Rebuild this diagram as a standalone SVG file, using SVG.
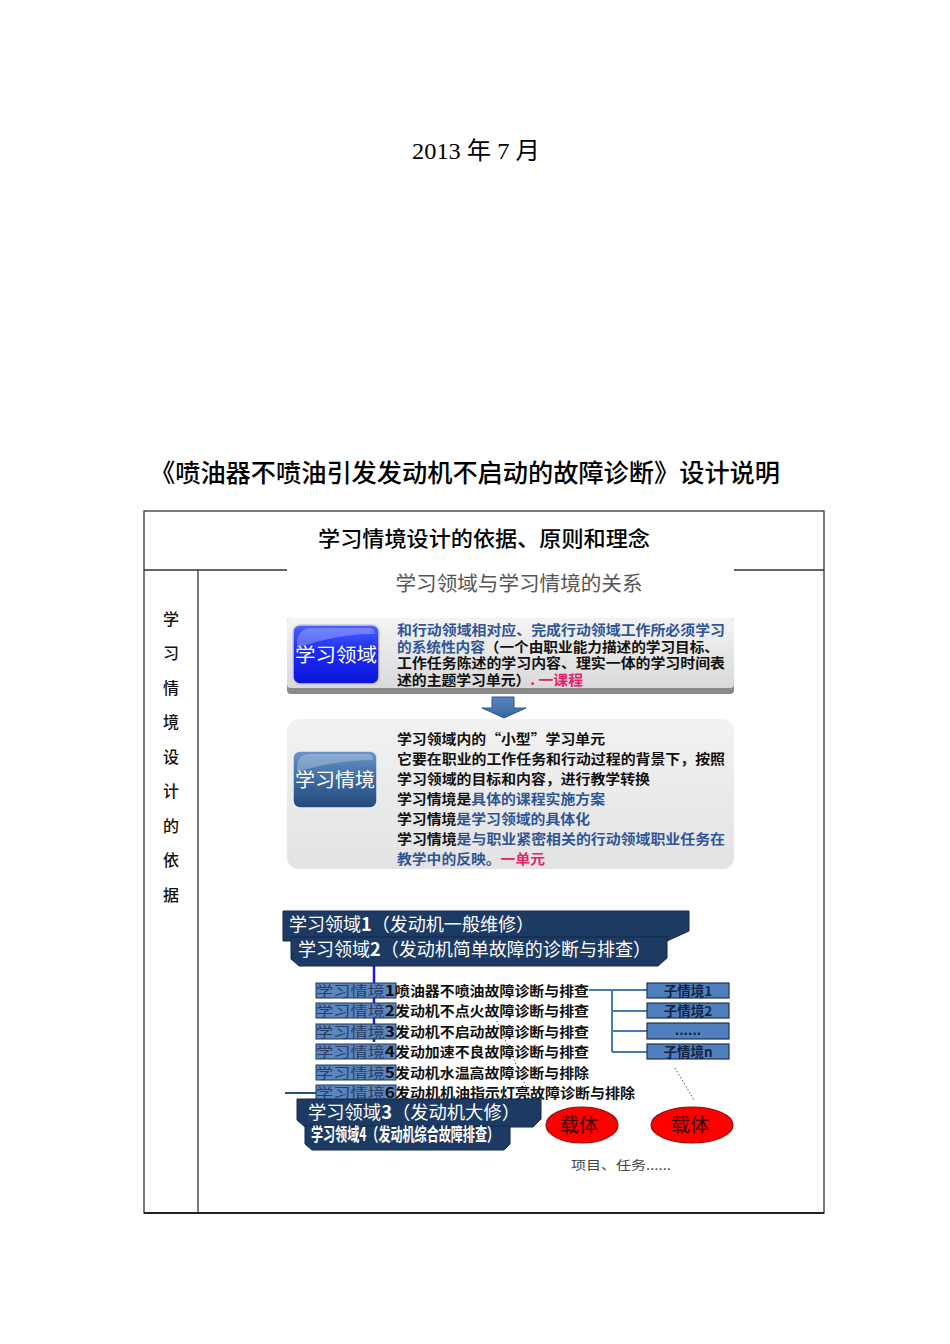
<svg xmlns="http://www.w3.org/2000/svg" width="950" height="1344" viewBox="0 0 950 1344">
<defs>
<style>
.cjk{font-family:"Noto Sans CJK SC","Noto Sans CJK JP",sans-serif}
.ser{font-family:"Liberation Serif","Noto Sans CJK SC",serif}
.tb{stroke:#333;stroke-width:1.3;fill:none}
.bt{font-family:"Noto Sans CJK SC",sans-serif;font-size:14px;font-weight:bold;fill:#111}
.bt2{font-family:"Noto Sans CJK SC",sans-serif;font-size:13.6px;font-weight:bold;fill:#111}
.blue{fill:#2f5597}
.red{fill:#e8206a}
.ban{fill:#1c3a62;stroke:#10284a;stroke-width:1}
.bant{font-family:"Noto Sans CJK SC",sans-serif;fill:#fff;font-size:18px}
.row{fill:#5b86bf;stroke:#1f3556;stroke-width:1}
.rowh{font-family:"Noto Sans CJK SC",sans-serif;font-size:14px;fill:#2c3e63}
.rowt{font-family:"Noto Sans CJK SC",sans-serif;font-size:14px;font-weight:bold;fill:#111}
.sub{fill:#4f7fbd;stroke:#1f3556;stroke-width:1.2}
.subt{font-family:"Noto Sans CJK SC",sans-serif;font-size:13.5px;font-weight:bold;fill:#15233f;text-anchor:middle}
.con{stroke:#4a78b2;stroke-width:2;fill:none}
.dot{stroke:#555;stroke-width:1;stroke-dasharray:1.5 2;fill:none}
</style>
<linearGradient id="panel1" x1="0" y1="0" x2="0" y2="1"><stop offset="0" stop-color="#f4f4f4"/><stop offset="1" stop-color="#d9d9d9"/></linearGradient>
<linearGradient id="panel2" x1="0" y1="0" x2="0" y2="1"><stop offset="0" stop-color="#f2f2f2"/><stop offset="1" stop-color="#e3e3e3"/></linearGradient>
<linearGradient id="btn1" x1="0" y1="0" x2="0" y2="1"><stop offset="0" stop-color="#4b63ff"/><stop offset="0.45" stop-color="#1c2cf2"/><stop offset="1" stop-color="#0d14d8"/></linearGradient>
<linearGradient id="btn2" x1="0" y1="0" x2="0" y2="1"><stop offset="0" stop-color="#6b97c8"/><stop offset="0.5" stop-color="#3d6aa0"/><stop offset="1" stop-color="#24497a"/></linearGradient>
<linearGradient id="arr" x1="0" y1="0" x2="0" y2="1"><stop offset="0" stop-color="#5a86c0"/><stop offset="1" stop-color="#3a66a0"/></linearGradient>
</defs>
<rect width="950" height="1344" fill="#fff"/>

<text class="ser" x="476" y="159" font-size="24" text-anchor="middle" fill="#000" textLength="128" lengthAdjust="spacingAndGlyphs">2013 年 7 月</text>
<text class="cjk" x="150" y="482" font-size="25" font-weight="500" textLength="630" lengthAdjust="spacingAndGlyphs" fill="#000">《喷油器不喷油引发发动机不启动的故障诊断》设计说明</text>

<g id="table">
<rect class="tb" x="144" y="511" width="680" height="702"/>
<line class="tb" x1="144" y1="570" x2="287" y2="570"/>
<line class="tb" x1="734" y1="570" x2="824" y2="570"/>
<line class="tb" x1="198" y1="570" x2="198" y2="1213"/>
<line x1="144" y1="1213" x2="824" y2="1213" stroke="#222" stroke-width="2"/>
<text class="cjk" x="484" y="546" font-size="21" font-weight="500" text-anchor="middle" textLength="332" lengthAdjust="spacingAndGlyphs" fill="#000">学习情境设计的依据、原则和理念</text>
<g class="cjk" font-size="16" font-weight="500" text-anchor="middle" fill="#111">
<text x="171" y="625">学</text><text x="171" y="659">习</text><text x="171" y="694">情</text><text x="171" y="728">境</text><text x="171" y="763">设</text><text x="171" y="797">计</text><text x="171" y="832">的</text><text x="171" y="866">依</text><text x="171" y="901">据</text>
</g>
</g>

<text class="cjk" x="519" y="591" font-size="20" text-anchor="middle" textLength="247" lengthAdjust="spacingAndGlyphs" fill="#555">学习领域与学习情境的关系</text>

<g id="node-domain">
<rect x="287" y="618" width="447" height="76" rx="4" fill="#8a8a8a"/>
<rect x="287" y="618" width="447" height="70" rx="4" fill="url(#panel1)"/>
<rect x="293" y="625" width="86" height="59" rx="7" fill="url(#btn1)" stroke="#c8c8e8" stroke-width="1.5"/>
<path d="M297,640 Q300,628 312,628 H370 Q375,628 375,634 Q340,633 297,648 Z" fill="#fff" opacity="0.25"/>
<text class="cjk" x="336" y="662" font-size="19.5" text-anchor="middle" fill="#fff" textLength="82" lengthAdjust="spacingAndGlyphs">学习领域</text>
<text class="bt" x="397" y="635" textLength="328" lengthAdjust="spacingAndGlyphs"><tspan class="blue">和行动领域相对应、完成行动领域工作所必须学习</tspan></text>
<text class="bt" x="397" y="652" textLength="322" lengthAdjust="spacingAndGlyphs"><tspan class="blue">的系统性内容</tspan>（一个由职业能力描述的学习目标、</text>
<text class="bt" x="397" y="668" textLength="328" lengthAdjust="spacingAndGlyphs">工作任务陈述的学习内容、理实一体的学习时间表</text>
<text class="bt" x="397" y="685" textLength="186" lengthAdjust="spacingAndGlyphs">述的主题学习单元）<tspan class="red">. 一课程</tspan></text>
</g>

<g id="arrow-down">
<path d="M492,697 H514 V708 H526 L504,718 L482,708 H492 Z" fill="url(#arr)" stroke="#2f5597" stroke-width="1"/>
</g>

<g id="node-situation">
<rect x="287" y="719" width="447" height="150" rx="12" fill="url(#panel2)"/>
<rect x="293" y="751" width="84" height="57" rx="7" fill="url(#btn2)" stroke="#e8eef6" stroke-width="1.5"/>
<path d="M297,765 Q299,754 310,754 H368 Q373,754 373,760 Q335,760 297,772 Z" fill="#fff" opacity="0.25"/>
<text class="cjk" x="335" y="787" font-size="19.5" text-anchor="middle" fill="#fff" textLength="80" lengthAdjust="spacingAndGlyphs">学习情境</text>
<text class="bt2" x="397" y="744" textLength="208" lengthAdjust="spacingAndGlyphs">学习领域内的“小型”学习单元</text>
<text class="bt2" x="397" y="764" textLength="328" lengthAdjust="spacingAndGlyphs">它要在职业的工作任务和行动过程的背景下，按照</text>
<text class="bt2" x="397" y="784" textLength="253" lengthAdjust="spacingAndGlyphs">学习领域的目标和内容，进行教学转换</text>
<text class="bt2" x="397" y="804" textLength="208" lengthAdjust="spacingAndGlyphs">学习情境是<tspan class="blue">具体的课程实施方案</tspan></text>
<text class="bt2" x="397" y="824" textLength="193" lengthAdjust="spacingAndGlyphs">学习情境<tspan class="blue">是学习领域的具体化</tspan></text>
<text class="bt2" x="397" y="844" textLength="328" lengthAdjust="spacingAndGlyphs">学习情境<tspan class="blue">是与职业紧密相关的行动领域职业任务在</tspan></text>
<text class="bt2" x="397" y="864" textLength="148" lengthAdjust="spacingAndGlyphs"><tspan class="blue">教学中的反映。</tspan><tspan class="red">一单元</tspan></text>
</g>

<g id="connectors">
<line x1="374" y1="966" x2="374" y2="1042" stroke="#1a1ae0" stroke-width="2.5"/>
<line x1="285" y1="1093" x2="316" y2="1093" stroke="#2a4f85" stroke-width="2"/>
<path class="con" d="M589,990 H647 M612,990 V1052 M612,1011 H647 M612,1031 H647 M612,1052 H647"/>
<line class="dot" x1="497" y1="1021" x2="530" y2="1096"/>
<line class="dot" x1="675" y1="1068" x2="694" y2="1100"/>
</g>

<g id="node-domain1">
<path class="ban" d="M283,911 H689 V931 L667,941 H283 Z"/>
<text class="bant" x="289" y="931" textLength="245" lengthAdjust="spacingAndGlyphs">学习领域<tspan font-weight="bold">1</tspan>（发动机一般维修）</text>
</g>
<g id="node-domain2">
<path class="ban" d="M291,937 H667 V958 L658,966 H299 L291,959 Z"/>
<text class="bant" x="298" y="956" textLength="353" lengthAdjust="spacingAndGlyphs">学习领域<tspan font-weight="bold">2</tspan>（发动机简单故障的诊断与排查）</text>
</g>

<g id="node-row1"><rect class="row" x="316" y="983" width="80" height="15"/><text class="rowh" x="316" y="995.5" textLength="79" lengthAdjust="spacingAndGlyphs">学习情境<tspan font-weight="bold" fill="#111">1</tspan></text><text class="rowt" x="395" y="995.5" textLength="194" lengthAdjust="spacingAndGlyphs">喷油器不喷油故障诊断与排查</text></g>
<g id="node-row2"><rect class="row" x="316" y="1003" width="80" height="15"/><text class="rowh" x="316" y="1015.5" textLength="79" lengthAdjust="spacingAndGlyphs">学习情境<tspan font-weight="bold" fill="#111">2</tspan></text><text class="rowt" x="395" y="1015.5" textLength="194" lengthAdjust="spacingAndGlyphs">发动机不点火故障诊断与排查</text></g>
<g id="node-row3"><rect class="row" x="316" y="1024" width="80" height="15"/><text class="rowh" x="316" y="1036.5" textLength="79" lengthAdjust="spacingAndGlyphs">学习情境<tspan font-weight="bold" fill="#111">3</tspan></text><text class="rowt" x="395" y="1036.5" textLength="194" lengthAdjust="spacingAndGlyphs">发动机不启动故障诊断与排查</text></g>
<g id="node-row4"><rect class="row" x="316" y="1044" width="80" height="15"/><text class="rowh" x="316" y="1056.5" textLength="79" lengthAdjust="spacingAndGlyphs">学习情境<tspan font-weight="bold" fill="#111">4</tspan></text><text class="rowt" x="395" y="1056.5" textLength="194" lengthAdjust="spacingAndGlyphs">发动加速不良故障诊断与排查</text></g>
<g id="node-row5"><rect class="row" x="316" y="1065" width="80" height="15"/><text class="rowh" x="316" y="1077.5" textLength="79" lengthAdjust="spacingAndGlyphs">学习情境<tspan font-weight="bold" fill="#111">5</tspan></text><text class="rowt" x="395" y="1077.5" textLength="194" lengthAdjust="spacingAndGlyphs">发动机水温高故障诊断与排除</text></g>
<g id="node-row6"><rect class="row" x="316" y="1085" width="80" height="15"/><text class="rowh" x="316" y="1097.5" textLength="79" lengthAdjust="spacingAndGlyphs">学习情境<tspan font-weight="bold" fill="#111">6</tspan></text><text class="rowt" x="395" y="1097.5" textLength="240" lengthAdjust="spacingAndGlyphs">发动机机油指示灯亮故障诊断与排除</text></g>

<g id="node-sub1"><rect class="sub" x="647" y="983" width="82" height="15"/><text class="subt" x="688" y="995.5">子情境1</text></g>
<g id="node-sub2"><rect class="sub" x="647" y="1003" width="82" height="15"/><text class="subt" x="688" y="1015.5">子情境2</text></g>
<g id="node-sub3"><rect class="sub" x="647" y="1023" width="82" height="16"/><text class="subt" x="688" y="1035" font-weight="normal" font-size="10">......</text></g>
<g id="node-subn"><rect class="sub" x="647" y="1044" width="82" height="15"/><text class="subt" x="688" y="1056.5">子情境n</text></g>

<g id="node-domain3">
<path class="ban" d="M297,1099 H541 V1119 L533,1127 H305 L297,1120 Z"/>
<text class="bant" x="308" y="1119" textLength="212" lengthAdjust="spacingAndGlyphs">学习领域<tspan font-weight="bold">3</tspan>（发动机大修）</text>
</g>
<g id="node-domain4">
<path class="ban" d="M305,1126 H510 V1144 L504,1150 H312 L305,1144 Z"/>
<text class="bant" x="311" y="1141" font-size="12" font-weight="bold" textLength="188" lengthAdjust="spacingAndGlyphs">学习领域4（发动机综合故障排查）</text>
</g>

<g id="node-carrier1"><ellipse cx="582" cy="1125" rx="36" ry="18" fill="#ff0000" stroke="#8a1010" stroke-width="1.2"/><text class="cjk" x="579" y="1132" font-size="19.5" text-anchor="middle" fill="#3a0000">载体</text></g>
<g id="node-carrier2"><ellipse cx="692" cy="1125" rx="41" ry="18" fill="#ff0000" stroke="#8a1010" stroke-width="1.2"/><text class="cjk" x="690" y="1132" font-size="19.5" text-anchor="middle" fill="#3a0000">载体</text></g>

<text class="cjk" x="571" y="1170" font-size="12.5" fill="#444" textLength="100" lengthAdjust="spacingAndGlyphs">项目、任务......</text>
</svg>
